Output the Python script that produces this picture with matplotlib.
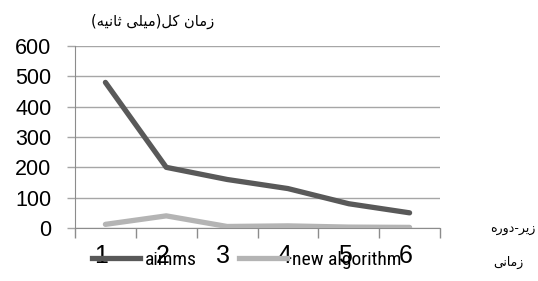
import matplotlib
matplotlib.use("Agg")
import matplotlib.pyplot as plt
from matplotlib.lines import Line2D
from matplotlib import font_manager
import matplotlib.transforms as mtransforms

# ---- data ----
categories = ["1", "2", "3", "4", "5", "6"]
aimms = [480, 200, 160, 130, 80, 50]
new_algorithm = [12, 40, 5, 7, 3, 2]
series_names = ["aimms", "new algorithm"]
y_ticks = [0, 100, 200, 300, 400, 500, 600]
y_title = "زمان کل(میلی ثانیه)"
x_title_1 = "زیر-دوره"
x_title_2 = "زمانی"

# ---- minimal Persian shaping (presentation forms + visual order) ----
FORMS = {
    '\u0627': ('\uFE8D', '\uFE8E', None, None),
    '\u062F': ('\uFEA9', '\uFEAA', None, None),
    '\u0631': ('\uFEAD', '\uFEAE', None, None),
    '\u0632': ('\uFEAF', '\uFEB0', None, None),
    '\u0648': ('\uFEED', '\uFEEE', None, None),
    '\u0645': ('\uFEE1', '\uFEE2', '\uFEE3', '\uFEE4'),
    '\u0646': ('\uFEE5', '\uFEE6', '\uFEE7', '\uFEE8'),
    '\u0644': ('\uFEDD', '\uFEDE', '\uFEDF', '\uFEE0'),
    '\u062B': ('\uFE99', '\uFE9A', '\uFE9B', '\uFE9C'),
    '\u0647': ('\uFEE9', '\uFEEA', '\uFEEB', '\uFEEC'),
    '\u06A9': ('\uFB8E', '\uFB8F', '\uFB90', '\uFB91'),
    '\u06CC': ('\uFBFC', '\uFBFD', '\uFBFE', '\uFBFF'),
}
MIRROR = {'(': ')', ')': '('}


def shape(s):
    out = []
    n = len(s)
    for i, c in enumerate(s):
        if c not in FORMS:
            out.append(c)
            continue
        f = FORMS[c]
        prev = s[i - 1] if i > 0 else None
        nxt = s[i + 1] if i < n - 1 else None
        jp = prev in FORMS and FORMS[prev][2] is not None
        jn = f[2] is not None and nxt in FORMS
        if jp and jn:
            out.append(f[3])
        elif jp:
            out.append(f[1])
        elif jn:
            out.append(f[2])
        else:
            out.append(f[0])
    return ''.join(MIRROR.get(c, c) for c in reversed(out))


def pick_font(cands):
    for c in cands:
        try:
            font_manager.findfont(c, fallback_to_default=False)
            return c
        except Exception:
            pass
    return None


narrow = pick_font(["Liberation Sans Narrow", "DejaVu Sans Condensed", "Roboto Condensed",
                    "Open Sans Condensed"])
if narrow:
    legend_prop = {"family": narrow, "size": 14}
else:
    legend_prop = {"family": "Liberation Sans", "size": 12.2}

fig = plt.figure(figsize=(5.38, 2.81), dpi=100)
ax = fig.add_axes([75 / 538, 1 - 228 / 281, (440 - 75) / 538, (228 - 46) / 281])

x = list(range(1, len(categories) + 1))
ax.plot(x, aimms, color="#595959", lw=3.8, solid_capstyle="round", zorder=3)
ax.plot(x, new_algorithm, color="#b4b4b4", lw=3.8, solid_capstyle="round", zorder=3)

ax.set_xlim(0.5, len(categories) + 0.5)
ax.set_ylim(0, 600)
ax.set_yticks(y_ticks)
ax.set_yticklabels([str(v) for v in y_ticks], fontsize=15.5, family="Liberation Sans")
ax.yaxis.grid(True, color="#a6a6a6", lw=1)
ax.set_axisbelow(True)

ax.set_xticks([i + 0.5 for i in range(0, len(categories) + 1)])
ax.set_xticklabels([])
ax.set_xticks(x, minor=True)
ax.set_xticklabels(categories, minor=True, fontsize=18, family="Liberation Sans")
ax.tick_params(axis="x", which="major", length=7, color="#8c8c8c", width=1)
ax.tick_params(axis="x", which="minor", length=0, pad=11.5)
ax.tick_params(axis="y", length=6, color="#a6a6a6", width=1, pad=11)
shift = mtransforms.ScaledTranslation(-4 / 100, 0, fig.dpi_scale_trans)
for lab in ax.get_xticklabels(minor=True):
    lab.set_transform(lab.get_transform() + shift)

for sp in ["top", "right"]:
    ax.spines[sp].set_visible(False)
ax.spines["left"].set_color("#8c8c8c")
ax.spines["bottom"].set_color("#8c8c8c")

fig.text(153 / 538, 1 - 21 / 281, shape(y_title), ha="center", va="center",
         fontsize=10.5, family="DejaVu Sans")
fig.text(513 / 538, 1 - 230 / 281, shape(x_title_1), ha="center", va="center",
         fontsize=9, family="DejaVu Sans")
fig.text(508 / 538, 1 - 262 / 281, shape(x_title_2), ha="center", va="center",
         fontsize=9, family="DejaVu Sans")

handles = [Line2D([], [], color="#595959", lw=3.8),
           Line2D([], [], color="#b4b4b4", lw=3.8)]
fig.legend(handles, series_names, loc="center", bbox_to_anchor=(247 / 538, 1 - 260 / 281),
           ncol=2, frameon=False, handlelength=48 / (legend_prop["size"] * 100 / 72),
           handletextpad=5 / (legend_prop["size"] * 100 / 72),
           columnspacing=42 / (legend_prop["size"] * 100 / 72),
           prop=legend_prop, borderpad=0)

fig.savefig("out.png", dpi=100)
